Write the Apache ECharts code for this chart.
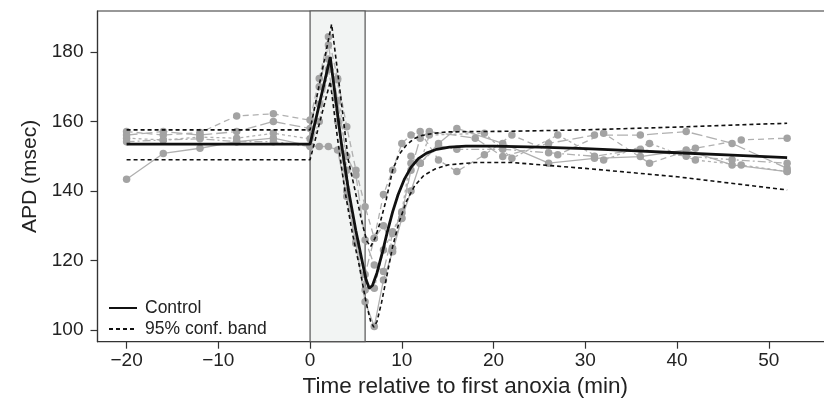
<!DOCTYPE html>
<html>
<head>
<meta charset="utf-8">
<script src="https://cdn.jsdelivr.net/npm/echarts@6/dist/echarts.min.js"></script>
<style>html,body{margin:0;padding:0;background:#fff}#c{width:824px;height:408px}</style>
</head>
<body>
<div id="c"></div>
<script>
const xTicks = [-20, -10, 0, 10, 20, 30, 40, 50];
const yTicks = [100, 120, 140, 160, 180];
const anoxiaWindow = [0, 6];

const controlT = [-20, 0, 2.2, 3.4, 4.2, 5.0, 5.7, 6.1, 6.45, 6.8, 7.3, 7.9, 8.4, 9.0, 9.6, 10.3, 11.0, 11.8, 12.7, 13.8, 15.2, 17, 20, 25, 30, 35, 40, 46, 52];
const controlV = [153.5, 153.5, 178.5, 154, 140, 128.5, 119.5, 114.5, 112, 112.8, 116.5, 122.5, 128, 134, 139, 143.5, 146.8, 149.3, 150.9, 152, 152.6, 152.9, 152.9, 152.6, 152.2, 151.6, 151, 150.3, 149.6];

const upperT = [-20, 0, 2.35, 3.3, 4.16, 5.0, 5.7, 6.2, 6.6, 7.1, 7.7, 8.3, 9.0, 9.7, 10.5, 11.3, 12.2, 13.5, 15, 18, 22, 30, 40, 52];
const upperV = [157.6, 157.6, 188, 168, 149, 139, 130.5, 125.5, 124, 126.5, 131.5, 137.5, 146, 150.5, 153.2, 155, 156, 156.6, 157, 157.1, 157.2, 157.6, 158.4, 159.5];

const lowerT = [-20, 0, 2.2, 3.0, 3.8, 4.6, 5.4, 6.1, 6.6, 6.95, 7.3, 7.8, 8.4, 9.0, 9.7, 10.5, 11.4, 12.4, 13.6, 15, 18, 22, 30, 40, 52];
const lowerV = [149, 149, 171.5, 155, 140, 128, 118, 108, 102.5, 100.8, 102.5, 108, 116, 124, 131, 137, 141.5, 144.5, 146.3, 147.5, 148.2, 148.2, 146.5, 144.1, 140.3];

const s1T = [-20, -16, -12, -8, -4, 0, 1, 2, 3, 4, 5, 6, 7, 8, 9, 10, 11, 12, 14, 16, 21, 26, 31, 36, 41, 46, 52];
const s1V = [143.4, 150.8, 152.3, 154.2, 155.2, 153, 152.8, 152.8, 151.8, 138.4, 124.9, 108.1, 101, 114.4, 122.5, 132.1, 140, 148, 153.7, 158, 153.7, 148, 149.4, 149.9, 151.8, 147.5, 145.6];
const s2T = [-20, -16, -12, -8, -4, 0, 1, 2, 3, 4, 5, 6, 7, 8, 9, 10, 11, 12, 14, 16, 19, 22, 27, 32, 37, 42, 47, 52];
const s2V = [157.1, 156.1, 156.8, 161.6, 162.2, 160.4, 172.4, 184.4, 172.4, 158.5, 146, 135.5, 126.4, 139, 146, 153.7, 156.1, 157.1, 148.9, 145.6, 150.4, 156.1, 150.4, 156.6, 148, 152.3, 154.7, 155.2];
const s3T = [-20, -16, -12, -8, -4, 0, 1, 2, 3, 4, 5, 6, 7, 8, 9, 10, 11, 12, 13, 18, 21, 26, 31, 36, 41, 46, 52];
const s3V = [156.1, 157.1, 156.1, 157.1, 160, 158, 170, 182, 166, 150, 144.6, 125.9, 118.7, 116.8, 127.8, 133.6, 146, 155.2, 157.1, 155.2, 149.9, 153.7, 156.1, 156.1, 157.1, 153.7, 146.5];
const s4T = [-20, -16, -12, -8, -4, 0, 1, 2, 3, 4, 5, 6, 7, 8, 9, 10, 11, 12, 13, 19, 22, 27, 32, 37, 42, 47, 52];
const s4V = [155.2, 154.7, 155.5, 155.2, 156.6, 155, 165, 178, 172, 146, 125.4, 111.5, 112, 123, 128.3, 134, 150, 148, 156.1, 156.6, 149.4, 156.1, 148.9, 153.7, 148.9, 147.5, 145.6];
const s5T = [-20, -16, -12, -8, -4, 0, 1, 2, 3, 4, 5, 6, 7, 8, 9, 10, 11, 12, 14, 16, 21, 26, 31, 36, 41, 46, 52];
const s5V = [154.2, 154.7, 155, 154.2, 154.2, 152.8, 160, 175, 160, 140, 125, 116, 126.4, 130, 123.5, 132.2, 148, 148, 153, 152, 152, 151, 150, 152, 150, 149, 148];

const FONT = 'Liberation Sans, Arial, Helvetica, sans-serif';
const zip = (t, v) => t.map((x, i) => [x, v[i]]);

const subjects = [
  {t: s1T, v: s1V, dash: 'solid'},
  {t: s2T, v: s2V, dash: [6, 4]},
  {t: s3T, v: s3V, dash: [11, 4]},
  {t: s4T, v: s4V, dash: [3, 3]},
  {t: s5T, v: s5V, dash: [8, 3, 2, 3]}
];

const series = [];
subjects.forEach((s, i) => {
  const ser = {
    name: 'Subject ' + (i + 1),
    type: 'line',
    data: zip(s.t, s.v),
    symbol: 'circle',
    symbolSize: 7.5,
    itemStyle: {color: '#a3a3a3'},
    lineStyle: {color: '#b0b0b0', width: 1.3, type: s.dash},
    silent: true,
    animation: false,
    z: 2
  };
  if (i === 0) {
    ser.markArea = {
      silent: true,
      itemStyle: {color: '#f2f4f3', borderColor: '#555', borderWidth: 1.2},
      data: [[{xAxis: anoxiaWindow[0]}, {xAxis: anoxiaWindow[1]}]]
    };
  }
  series.push(ser);
});
series.push({
  name: '95% conf. band', type: 'line', data: zip(upperT, upperV), symbol: 'none',
  lineStyle: {color: '#111', width: 1.6, type: [4, 3]}, itemStyle: {color: '#111'}, z: 3, animation: false
});
series.push({
  name: '95% conf. band', type: 'line', data: zip(lowerT, lowerV), symbol: 'none',
  lineStyle: {color: '#111', width: 1.6, type: [4, 3]}, itemStyle: {color: '#111'}, z: 3, animation: false
});
series.push({
  name: 'Control', type: 'line', data: zip(controlT, controlV), symbol: 'none',
  lineStyle: {color: '#111', width: 2.8}, itemStyle: {color: '#111'}, z: 4, animation: false
});

const chart = echarts.init(document.getElementById('c'), null, {renderer: 'canvas'});
chart.setOption({
  backgroundColor: '#fff',
  animation: false,
  textStyle: {fontFamily: FONT},
  grid: {
    left: 97.5, top: 11, right: -9, bottom: 66.3,
    show: true, borderColor: '#333', borderWidth: 1.2,
    containLabel: false, outerBoundsMode: 'none'
  },
  legend: {
    data: ['Control', '95% conf. band'],
    orient: 'vertical',
    left: 103, top: 294,
    itemWidth: 28, itemHeight: 14, itemGap: 3,
    selectedMode: false,
    itemStyle: {color: 'rgba(0,0,0,0)', borderColor: 'rgba(0,0,0,0)', borderWidth: 0, opacity: 0},
    textStyle: {fontFamily: FONT, fontSize: 17.5, color: '#222', padding: [0, 0, 0, 3]}
  },
  xAxis: {
    type: 'value', min: -23.17, max: 57,
    name: 'Time relative to first anoxia (min)',
    nameLocation: 'middle', nameGap: 32,
    nameTextStyle: {fontFamily: FONT, fontSize: 22.5, color: '#222'},
    axisLine: {show: true, onZero: false, lineStyle: {color: '#333', width: 1.2}},
    axisTick: {show: true, length: 7, customValues: xTicks, lineStyle: {color: '#333', width: 1.2}},
    axisLabel: {customValues: xTicks, margin: 10, fontSize: 19, color: '#222', fontFamily: FONT,
      formatter: v => String(v).replace('-', '\u2212')},
    splitLine: {show: false}
  },
  yAxis: {
    type: 'value', min: 96.63, max: 191.8,
    name: 'APD (msec)',
    nameLocation: 'middle', nameRotate: 90, nameGap: 54,
    nameTextStyle: {fontFamily: FONT, fontSize: 21, color: '#222'},
    axisLine: {show: true, onZero: false, lineStyle: {color: '#333', width: 1.2}},
    axisTick: {show: true, length: 7, customValues: yTicks, lineStyle: {color: '#333', width: 1.2}},
    axisLabel: {customValues: yTicks, margin: 14, fontSize: 19, color: '#222', fontFamily: FONT},
    splitLine: {show: false}
  },
  series: series
});
</script>
</body>
</html>
